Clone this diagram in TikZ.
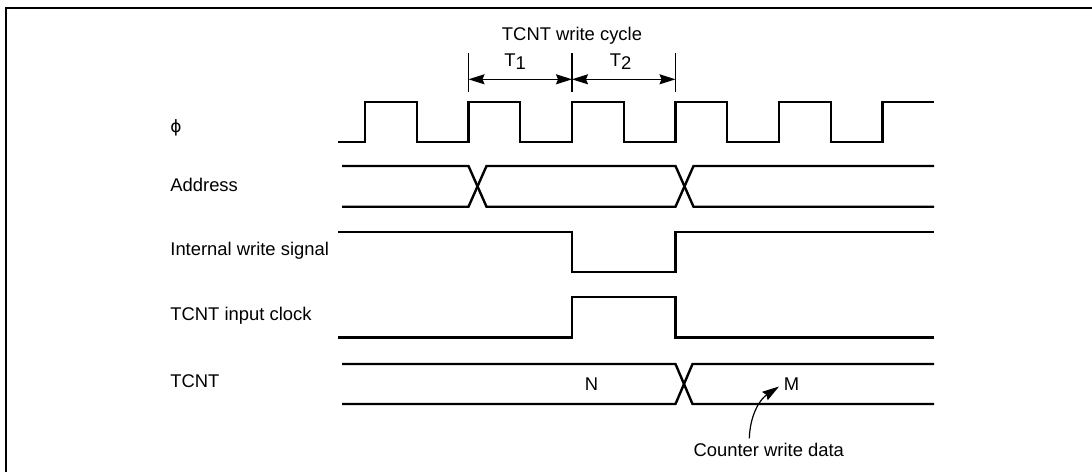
\documentclass[tikz,border=0pt]{standalone}
\usepackage{fontspec}
\setmainfont{Liberation Sans}
\newfontfamily\phifont{DejaVu Sans}
\usetikzlibrary{arrows.meta}

\tikzset{
  sig/.style={line width=1.2pt},
  dim/.style={line width=0.6pt},
  lbl/.style={anchor=base west,inner sep=0pt,font=\fontsize{9.2}{11}\selectfont},
  txt/.style={anchor=base,inner sep=0pt,font=\fontsize{9.2}{11}\selectfont},
}

\begin{document}
\begin{tikzpicture}[x=0.5pt,y=-0.5pt,>={Stealth[length=8pt,width=5pt,inset=1pt]}]
\useasboundingbox (0,0) rectangle (1092,472);
\draw[line width=1.3pt] (6,472) -- (6,8) -- (1092,8);

% signal names
\node[lbl] (lphi) at (170,132) {\phifont\fontsize{8.5}{10}\selectfont ϕ};
\node[lbl] (laddr) at (170,191.7) {Address};
\node[lbl] (liws) at (170,255) {Internal write signal};
\node[lbl] (ltic) at (170,320.7) {TCNT input clock};
\node[lbl] (ltcnt) at (170,387.7) {TCNT};

% write cycle
\node[txt] (ncyc) at (572,40) {TCNT write cycle};
\node[txt] (nt1) at (515,66) {T\raisebox{-1.6pt}{1}};
\node[txt] (nt2) at (620.5,66) {T\raisebox{-1.6pt}{2}};
\coordinate (c1) at (468.5,79.3);
\coordinate (c2) at (572,79.3);
\coordinate (c3) at (675.5,79.3);
\foreach \c in {c1,c2,c3}
  \draw[dim] ([yshift=13pt]\c) -- ([yshift=-6.2pt]\c);
\draw[dim,<->] (c1) -- (c2);
\draw[dim,<->] (c2) -- (c3);

% phi
\draw[sig] (338,142) \foreach \k in {0,...,4} {
  -- ({365+103.5*\k},142) -- ({365+103.5*\k},101.7)
  -- ({416.75+103.5*\k},101.7) -- ({416.75+103.5*\k},142)}
  -- (882.5,142) -- (882.5,101.7) -- (934,101.7);

% address
\draw[sig] (342,166) -- (468.5,166) -- (486.5,206.7) -- (675.5,206.7) -- (693.5,166) -- (934,166);
\draw[sig] (342,206.7) -- (468.5,206.7) -- (486.5,166) -- (675.5,166) -- (693.5,206.7) -- (934,206.7);

% internal write signal
\draw[sig] (338,231.7) -- (572,231.7) -- (572,272) -- (675.5,272) -- (675.5,231.7) -- (934,231.7);

% TCNT input clock
\draw[sig] (338,337.3) -- (572,337.3) -- (572,296.7) -- (675.5,296.7) -- (675.5,337.3) -- (934,337.3);

% TCNT
\draw[sig] (342,364) -- (675.5,364) -- (692.5,404) -- (934,404);
\draw[sig] (342,404) -- (675.5,404) -- (692.5,364) -- (934,364);
\node[txt] (nN) at (591.5,390) {N};
\node[txt] (nM) at (791.5,390) {M};

% counter write data
\node[txt] (ncwd) at (768.8,456) {Counter write data};
\coordinate (cwdtail) at (749.3,438.3);
\coordinate (cwdtip) at (779,386.5);
\draw[dim,{Stealth[length=8.5pt,width=5pt,inset=1pt]}-] (cwdtip) to[out=-146,in=88] (cwdtail);
\end{tikzpicture}
\end{document}
